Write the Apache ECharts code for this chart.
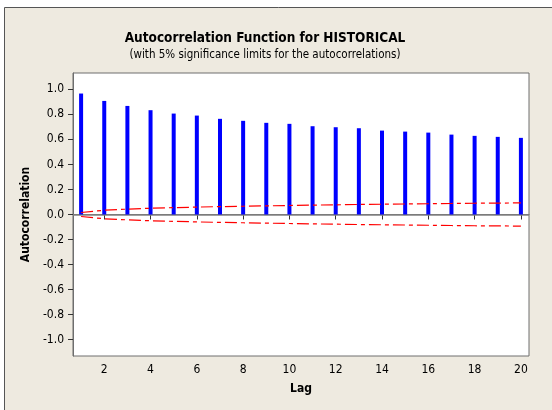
<!DOCTYPE html>
<html>
<head>
<meta charset="utf-8">
<script src="https://cdn.jsdelivr.net/npm/echarts@6/dist/echarts.min.js"></script>
<style>
  html, body { margin: 0; padding: 0; background: #fff; }
  #acf { width: 552px; height: 410px; }
</style>
</head>
<body>
<div id="acf"></div>
<script>
// lags and autocorrelations
var lags = [1, 2, 3, 4, 5, 6, 7, 8, 9, 10, 11, 12, 13, 14, 15, 16, 17, 18, 19, 20];
var acf = [0.966, 0.907, 0.867, 0.833, 0.806, 0.790, 0.764, 0.748, 0.732, 0.724,
           0.705, 0.697, 0.689, 0.670, 0.662, 0.654, 0.638, 0.628, 0.620, 0.612];
// 5% significance limit (upper), the lower one is its mirror
var limit = [0.016, 0.034, 0.043, 0.050, 0.055, 0.059, 0.063, 0.066, 0.069, 0.072,
             0.075, 0.077, 0.080, 0.082, 0.084, 0.086, 0.088, 0.090, 0.091, 0.093];
var xTicks = [2, 4, 6, 8, 10, 12, 14, 16, 18, 20];
var yTicks = [-1.0, -0.8, -0.6, -0.4, -0.2, 0.0, 0.2, 0.4, 0.6, 0.8, 1.0];

var font = "DejaVu Sans Condensed";
var redDash = [12, 4, 4, 4];

var option = {
  backgroundColor: "#ffffff",
  animation: false,
  graphic: [
    {
      type: "rect",
      shape: { x: 4.5, y: 7.5, width: 560, height: 420 },
      style: { fill: "#eeeae0", stroke: "#555555", lineWidth: 1 },
      z: -10
    }
  ],
  title: {
    text: "Autocorrelation Function for HISTORICAL",
    subtext: "(with 5% significance limits for the autocorrelations)",
    left: 260,
    top: 26,
    textAlign: "center",
    itemGap: 4,
    textStyle: { fontFamily: font, fontSize: 13.5, fontWeight: "bold", color: "#000" },
    subtextStyle: { fontFamily: font, fontSize: 11.5, color: "#000" }
  },
  grid: {
    left: 73,
    right: 23,
    top: 73,
    bottom: 54,
    show: true,
    backgroundColor: "#ffffff",
    borderColor: "#6e6e6e",
    borderWidth: 1
  },
  xAxis: {
    type: "value",
    min: 0.65,
    max: 20.35,
    name: "Lag",
    nameLocation: "middle",
    nameGap: 27,
    nameTextStyle: { fontFamily: font, fontSize: 12, fontWeight: "bold", color: "#000" },
    axisLine: { show: true, lineStyle: { color: "#6e6e6e" } },
    axisTick: {
      show: true,
      length: 5,
      customValues: xTicks,
      lineStyle: { color: "#333" }
    },
    axisLabel: {
      customValues: xTicks,
      margin: 8,
      fontFamily: font,
      fontSize: 12,
      color: "#000"
    },
    splitLine: { show: false }
  },
  yAxis: {
    type: "value",
    min: -1.13,
    max: 1.13,
    name: "Autocorrelation",
    nameLocation: "middle",
    nameGap: 36,
    nameRotate: 90,
    nameTextStyle: { fontFamily: font, fontSize: 12, fontWeight: "bold", color: "#000" },
    axisLine: { show: true, lineStyle: { color: "#6e6e6e" } },
    axisTick: {
      show: true,
      length: 5,
      customValues: yTicks,
      lineStyle: { color: "#333" }
    },
    axisLabel: {
      customValues: yTicks,
      margin: 9,
      fontFamily: font,
      fontSize: 12,
      color: "#000",
      formatter: function (v) { return (Math.abs(v) < 1e-9 ? 0 : v).toFixed(1); }
    },
    splitLine: { show: false }
  },
  series: [
    {
      name: "ACF",
      type: "bar",
      barWidth: 4,
      itemStyle: { color: "#0000ff" },
      data: lags.map(function (k, i) { return [k, acf[i]]; }),
      markLine: {
        silent: true,
        symbol: "none",
        label: { show: false },
        lineStyle: { color: "#808080", width: 1.5, type: "solid" },
        data: [{ yAxis: 0 }],
        z: 1
      },
      z: 3
    },
    {
      name: "Upper limit",
      type: "line",
      symbol: "none",
      lineStyle: { color: "#ff0000", width: 1.2, type: redDash },
      data: lags.map(function (k, i) { return [k, limit[i]]; }),
      z: 4
    },
    {
      name: "Lower limit",
      type: "line",
      symbol: "none",
      lineStyle: { color: "#ff0000", width: 1.2, type: redDash },
      data: lags.map(function (k, i) { return [k, -limit[i]]; }),
      z: 4
    }
  ]
};

var chart = echarts.init(document.getElementById("acf"));
chart.setOption(option);
</script>
</body>
</html>
